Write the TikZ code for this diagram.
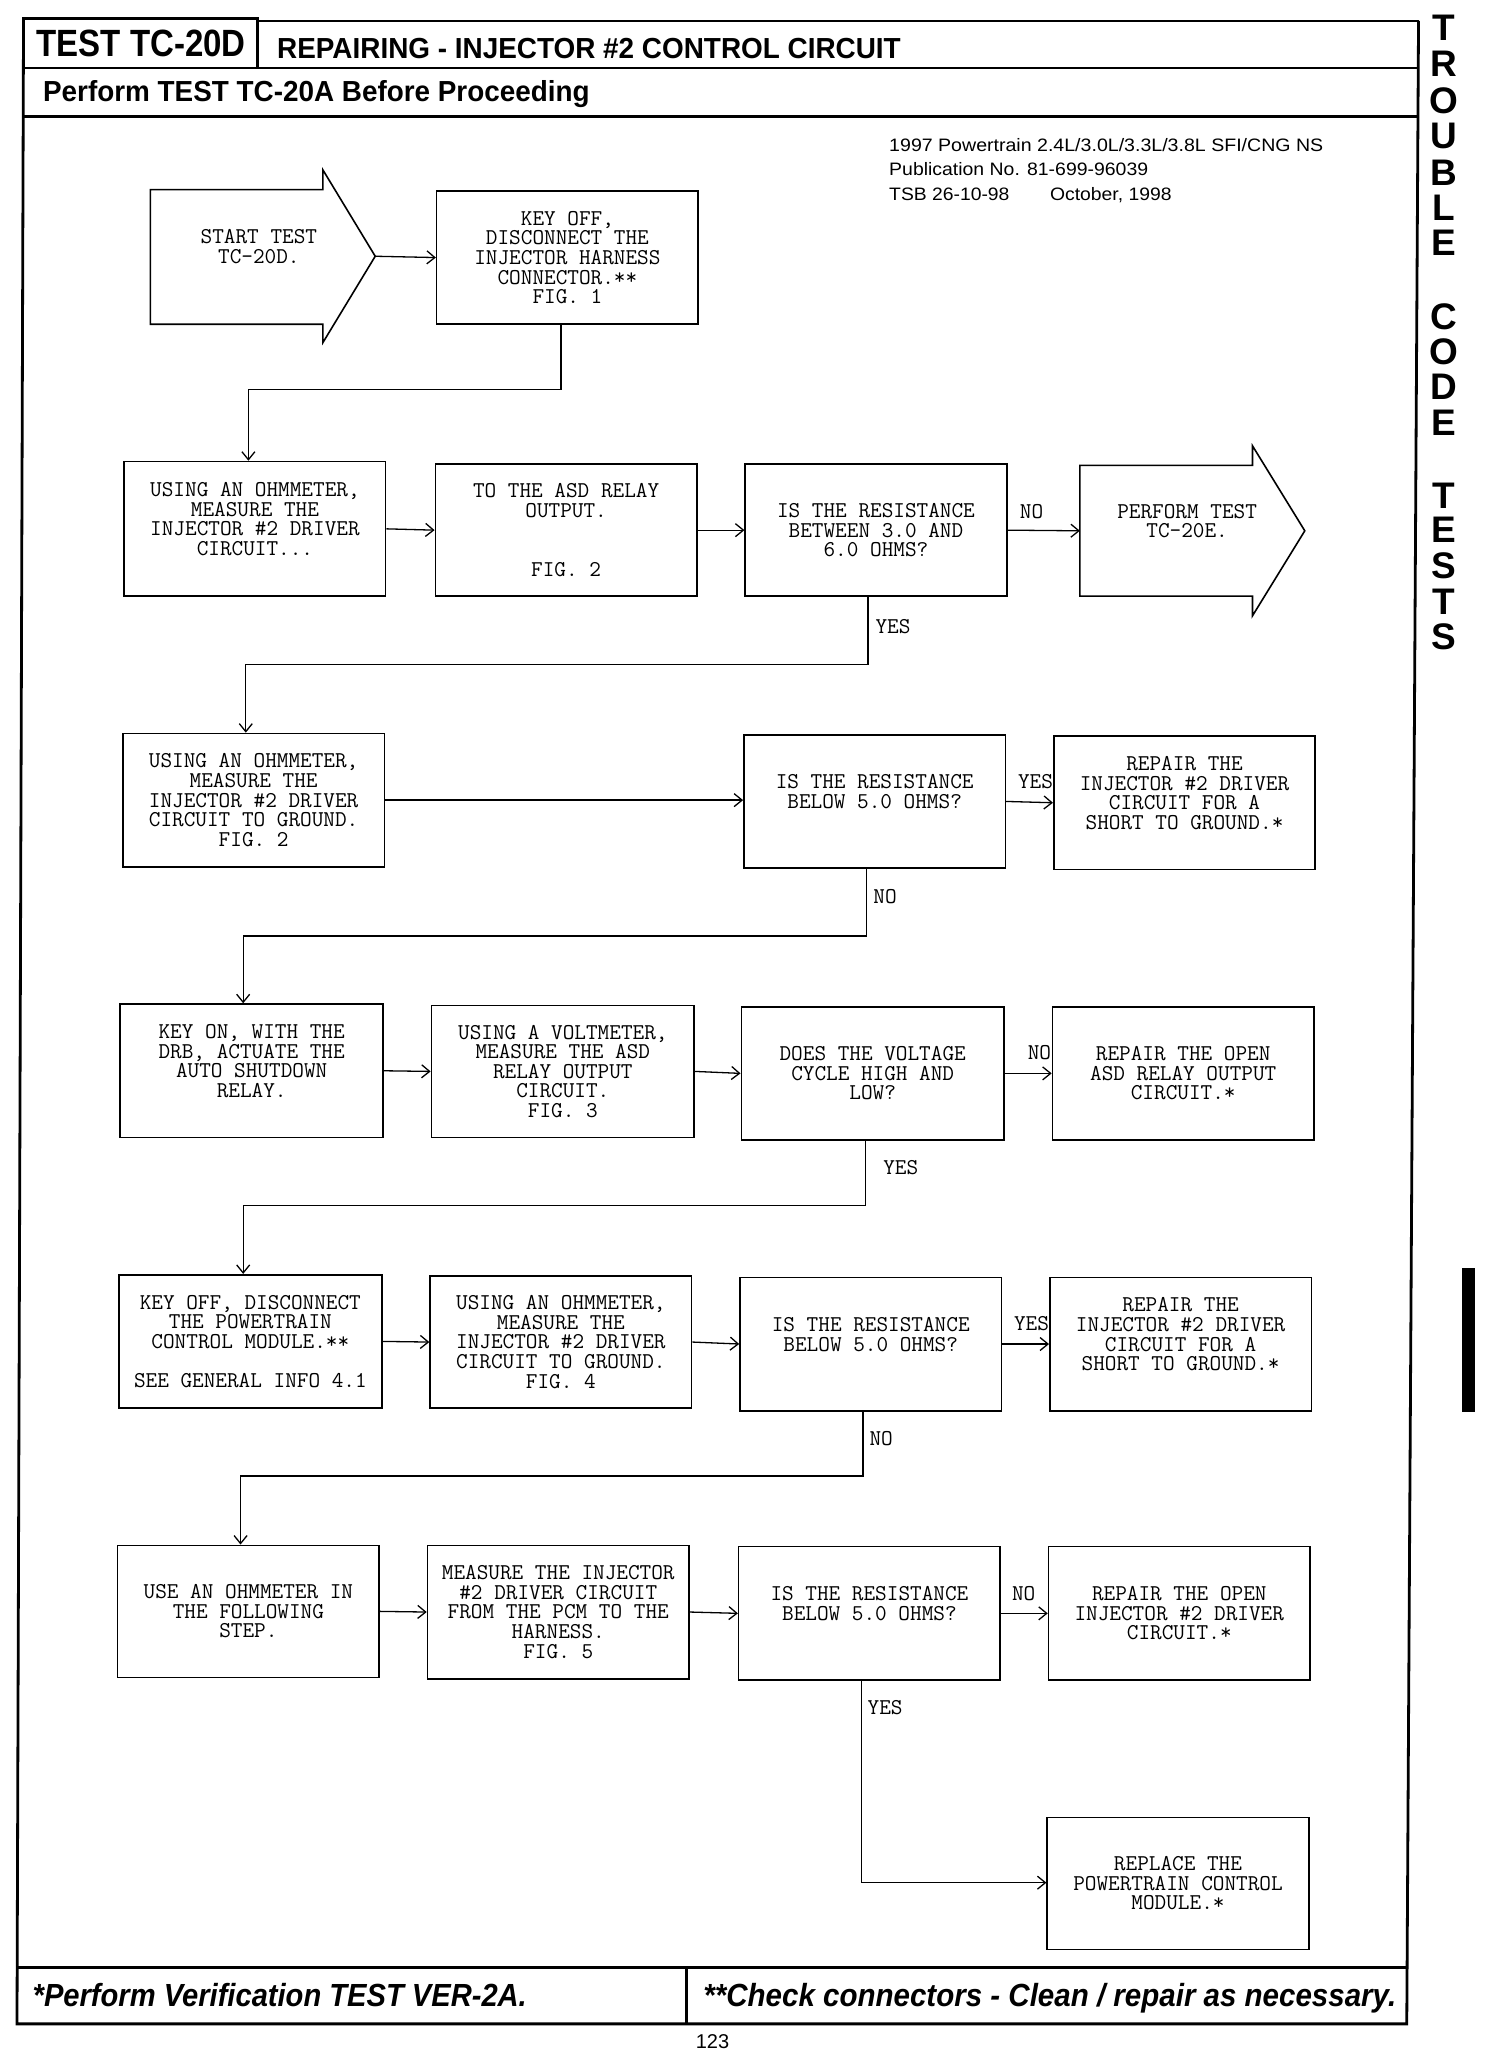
\documentclass[tikz,border=0pt]{standalone}
\usepackage{fontspec}
\usepackage{graphicx}
\setmainfont{Liberation Sans}
\newfontfamily\hfont{Liberation Sans}
\usetikzlibrary{arrows.meta}
\newcommand\bx[6]{\node[box,minimum width={(#4-#2)*1.3078pt},minimum height={(#5-#3)*1.3078pt}] (#1) at ({(#2+#4)/2},{(#3+#5)/2}) {#6};}
\begin{document}
\begin{tikzpicture}[x=1.3078pt,y=-1.3078pt,
  box/.style={draw,line width=1.6pt,inner sep=0pt,align=center,font=\ttfamily\fontsize{22.6pt}{19.6pt}\selectfont},
  mono/.style={inner sep=0pt,align=center,font=\ttfamily\fontsize{22.6pt}{19.6pt}\selectfont},
  lbl/.style={inner sep=0pt,font=\ttfamily\fontsize{22.6pt}{19.6pt}\selectfont},
  conn/.style={line width=1.3pt,-{Straight Barb[length=8pt,width=13pt,line width=1.3pt]}},
  frame/.style={line width=2.8pt},
  arrowshape/.style={line width=1.6pt,line join=miter},
  hdr/.style={inner sep=0pt,anchor=base},
  side/.style={inner sep=0pt,font=\hfont\bfseries\fontsize{37pt}{37pt}\selectfont}]
\fill[white] (0,0) rectangle (1150,1568);
\useasboundingbox (0,0) rectangle (1150,1568);

% ---------- page frame ----------
\draw[frame] (18,14) rectangle (197,52);
\draw[frame] (197,16) -- (1085,16);
\draw[frame] (18,52) -- (1085,52);
\draw[frame] (18,89) -- (1085,89);
\draw[frame] (18,14) -- (13,1548) -- (1076,1548) -- (1085,16);
\draw[frame] (13.3,1505) -- (1076.3,1505);
\draw[frame] (525,1505) -- (525,1548);
\fill (1118,970) rectangle (1128,1080);

% ---------- header / footer texts ----------
\node[hdr] (title) at (108,43.5) {\hfont\bfseries\fontsize{38pt}{38pt}\selectfont\resizebox{209.2pt}{\height}{TEST TC-20D}};
\node[hdr] (subtitle) at (450.5,45) {\hfont\bfseries\fontsize{29pt}{29pt}\selectfont\resizebox{623.8pt}{\height}{REPAIRING - INJECTOR \#2 CONTROL CIRCUIT}};
\node[hdr] (before) at (242,78) {\hfont\bfseries\fontsize{29pt}{29pt}\selectfont\resizebox{546.7pt}{\height}{Perform TEST TC-20A Before Proceeding}};
\node[hdr] (foot1) at (214,1535) {\hfont\bfseries\itshape\fontsize{32pt}{32pt}\selectfont\resizebox{494.3pt}{\height}{*Perform Verification TEST VER-2A.}};
\node[hdr] (foot2) at (803,1535) {\hfont\bfseries\itshape\fontsize{32pt}{32pt}\selectfont\resizebox{693.1pt}{\height}{**Check connectors - Clean / repair as necessary.}};
\node[hdr] (pageno) at (545,1566.5) {\hfont\fontsize{20pt}{20pt}\selectfont 123};

\node[inner sep=0pt,anchor=base west] (pub1) at (680,116) {\hfont\fontsize{18pt}{18pt}\selectfont\resizebox{434.2pt}{\height}{1997 Powertrain 2.4L/3.0L/3.3L/3.8L SFI/CNG NS}};
\node[inner sep=0pt,anchor=base west] (pub2) at (680,134) {\hfont\fontsize{18pt}{18pt}\selectfont\resizebox{259pt}{\height}{Publication No. 81-699-96039}};
\node[inner sep=0pt,anchor=base west] (pub3) at (680,153) {\hfont\fontsize{18pt}{18pt}\selectfont\resizebox{120.3pt}{\height}{TSB 26-10-98}};
\node[inner sep=0pt,anchor=base west] (pub4) at (803,153) {\hfont\fontsize{18pt}{18pt}\selectfont\resizebox{121.6pt}{\height}{October, 1998}};

% ---------- side tab ----------
\node[side] (s1) at (1104,21) {T};
\node[side] (s2) at (1104,49) {R};
\node[side] (s3) at (1104,77) {O};
\node[side] (s4) at (1104,104) {U};
\node[side] (s5) at (1104,132) {B};
\node[side] (s6) at (1104,159) {L};
\node[side] (s7) at (1104,186) {E};
\node[side] (s8) at (1104,242) {C};
\node[side] (s9) at (1104,269) {O};
\node[side] (s10) at (1104,296) {D};
\node[side] (s11) at (1104,323) {E};
\node[side] (s12) at (1104,379) {T};
\node[side] (s13) at (1104,405) {E};
\node[side] (s14) at (1104,433) {S};
\node[side] (s15) at (1104,460) {T};
\node[side] (s16) at (1104,487) {S};

% ---------- arrow shapes ----------
\draw[arrowshape] (115,145) -- (247,145) -- (247,130) -- (287,196) -- (247,262) -- (247,248) -- (115,248) -- cycle;
\node[mono] (start) at (198,188.5) {START TEST\\TC-20D.};
\coordinate (starttip) at (287,196);
\draw[arrowshape] (826,356) -- (958,356) -- (958,341) -- (998,406) -- (958,471) -- (958,456) -- (826,456) -- cycle;
\node[mono] (tc20e) at (908,398.5) {PERFORM TEST\\TC-20E.};
\coordinate (tc20eleft) at (826,406);

% ---------- boxes ----------
\bx{k1}{334}{146}{534}{248}{KEY OFF,\\DISCONNECT THE\\INJECTOR HARNESS\\CONNECTOR.**\\FIG. 1}
\bx{a1}{95}{353}{295}{456}{USING AN OHMMETER,\\MEASURE THE\\INJECTOR \#2 DRIVER\\CIRCUIT...\\\mbox{}}
\bx{a2}{333}{355}{533}{456}{TO THE ASD RELAY\\OUTPUT.\\\mbox{}\\\mbox{}\\FIG. 2}
\bx{a3}{570}{355}{770}{456}{IS THE RESISTANCE\\BETWEEN 3.0 AND\\6.0 OHMS?}
\bx{b1}{94}{561}{294}{663}{USING AN OHMMETER,\\MEASURE THE\\INJECTOR \#2 DRIVER\\CIRCUIT TO GROUND.\\FIG. 2}
\bx{b3}{569}{562}{769}{664}{IS THE RESISTANCE\\BELOW 5.0 OHMS?\\\mbox{}}
\bx{b4}{806}{563}{1006}{665}{REPAIR THE\\INJECTOR \#2 DRIVER\\CIRCUIT FOR A\\SHORT TO GROUND.*\\\mbox{}}
\bx{c1}{92}{768}{293}{870}{KEY ON, WITH THE\\DRB, ACTUATE THE\\AUTO SHUTDOWN\\RELAY.\\\mbox{}}
\bx{c2}{330}{769}{531}{870}{USING A VOLTMETER,\\MEASURE THE ASD\\RELAY OUTPUT\\CIRCUIT.\\FIG. 3}
\bx{c3}{567}{770}{768}{872}{DOES THE VOLTAGE\\CYCLE HIGH AND\\LOW?}
\bx{c4}{805}{770}{1005}{872}{REPAIR THE OPEN\\ASD RELAY OUTPUT\\CIRCUIT.*}
\bx{d1}{91}{975}{292}{1077}{KEY OFF, DISCONNECT\\THE POWERTRAIN\\CONTROL MODULE.**\\\mbox{}\\SEE GENERAL INFO 4.1}
\bx{d2}{329}{976}{529}{1077}{USING AN OHMMETER,\\MEASURE THE\\INJECTOR \#2 DRIVER\\CIRCUIT TO GROUND.\\FIG. 4}
\bx{d3}{566}{977}{766}{1079}{IS THE RESISTANCE\\BELOW 5.0 OHMS?\\\mbox{}}
\bx{d4}{803}{977}{1003}{1079}{REPAIR THE\\INJECTOR \#2 DRIVER\\CIRCUIT FOR A\\SHORT TO GROUND.*\\\mbox{}}
\bx{e1}{90}{1182}{290}{1283}{USE AN OHMMETER IN\\THE FOLLOWING\\STEP.}
\bx{e2}{327}{1182}{527}{1284}{MEASURE THE INJECTOR\\\#2 DRIVER CIRCUIT\\FROM THE PCM TO THE\\HARNESS.\\FIG. 5}
\bx{e3}{565}{1183}{765}{1285}{IS THE RESISTANCE\\BELOW 5.0 OHMS?\\\mbox{}}
\bx{e4}{802}{1183}{1002}{1285}{REPAIR THE OPEN\\INJECTOR \#2 DRIVER\\CIRCUIT.*}
\bx{e5}{801}{1390}{1001}{1491}{REPLACE THE\\POWERTRAIN CONTROL\\MODULE.*}

% ---------- junction coordinates ----------
\coordinate (j1a) at (429,298); \coordinate (j1b) at (190,298);
\coordinate (j2a) at (664,508); \coordinate (j2b) at (188,508);
\coordinate (j3a) at (663,716); \coordinate (j3b) at (186,716);
\coordinate (j4a) at (662,922); \coordinate (j4b) at (186,922);
\coordinate (j5a) at (660,1129); \coordinate (j5b) at (184,1129);
\coordinate (j6a) at (659,1440);

% ---------- connectors ----------
\draw[conn] (starttip) -- (k1.west);
\draw[conn] (k1.south -| j1a) -- (j1a) -- (j1b) -- (a1.north -| j1b);

\draw[conn] (a1.east) -- (a2.west);
\draw[conn] (a2.east) -- (a3.west);
\draw[conn] (a3.east) -- (tc20eleft);
\node[lbl] (no1) at (789,391) {NO};
\draw[conn] (a3.south -| j2a) -- (j2a) -- (j2b) -- (b1.north -| j2b);
\node[lbl] (yes1) at (683,479) {YES};

\draw[conn] (b1.east) -- (b1.east -| b3.west);
\draw[conn] (b3.east) -- (b4.west);
\node[lbl] (yes2) at (792,598) {YES};
\draw[conn] (b3.south -| j3a) -- (j3a) -- (j3b) -- (c1.north -| j3b);
\node[lbl] (no2) at (677,686) {NO};

\draw[conn] (c1.east) -- (c2.west);
\draw[conn] (c2.east) -- (c3.west);
\draw[conn] (c3.east) -- (c4.west);
\node[lbl] (no3) at (795,805) {NO};
\draw[conn] (c3.south -| j4a) -- (j4a) -- (j4b) -- (d1.north -| j4b);
\node[lbl] (yes3) at (689,893) {YES};

\draw[conn] (d1.east) -- (d2.west);
\draw[conn] (d2.east) -- (d3.west);
\draw[conn] (d3.east) -- (d4.west);
\node[lbl] (yes4) at (789,1012) {YES};
\draw[conn] (d3.south -| j5a) -- (j5a) -- (j5b) -- (e1.north -| j5b);
\node[lbl] (no4) at (674,1100) {NO};

\draw[conn] (e1.east) -- (e2.west);
\draw[conn] (e2.east) -- (e3.west);
\draw[conn] (e3.east) -- (e4.west);
\node[lbl] (no5) at (783,1219) {NO};
\draw[conn] (e3.south -| j6a) -- (j6a) -- (e5.west |- j6a);
\node[lbl] (yes5) at (677,1306) {YES};
\end{tikzpicture}
\end{document}
